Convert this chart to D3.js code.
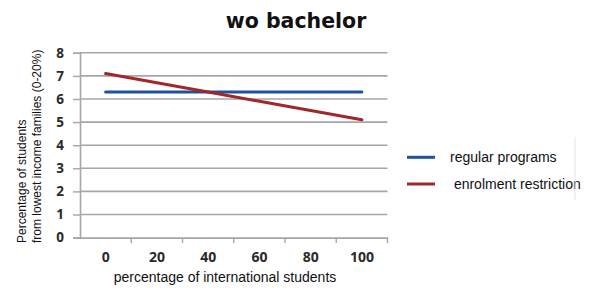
<!DOCTYPE html>
<html><head><meta charset="utf-8">
<script src="https://cdn.jsdelivr.net/npm/d3@7"></script>
<style>body{margin:0;background:#fff}svg{display:block}</style>
</head><body><svg id="c" width="590" height="296"></svg>
<script>
const categories = ["0","20","40","60","80","100"];
const regularPrograms = [6.3,6.3,6.3,6.3,6.3,6.3];
const enrolmentRestriction = [7.1,6.7,6.3,5.9,5.5,5.1];
const yTicks = [0,1,2,3,4,5,6,7,8];
const seriesNames = ["regular programs"," enrolment restriction"];
const colors = ["#21509c","#a1282a"];

const svg = d3.select("#c");
const x = d3.scaleBand().domain(categories).range([80,387.5]);
const y = d3.scaleLinear().domain([0,8]).range([237.6,52.8]);

// gridlines
svg.append("g").selectAll("line").data(yTicks.filter(d=>d>0)).join("line")
  .attr("x1",80).attr("x2",387.5).attr("y1",d=>y(d)).attr("y2",d=>y(d))
  .attr("stroke","#a6a6a6").attr("stroke-width",1.6);

// y axis
const ya = svg.append("g").attr("transform","translate(80,0)")
  .call(d3.axisLeft(y).tickValues(yTicks).tickSize(7).tickPadding(9));
ya.select(".domain").attr("stroke","#a6a6a6").attr("stroke-width",1.6);
ya.selectAll(".tick line").attr("stroke","#a6a6a6").attr("stroke-width",1.4);
ya.selectAll("text").attr("font-family","Open Sans").attr("font-weight","bold")
  .attr("font-size",13.5).attr("fill","#2a2a2a");

// x axis
const xa = svg.append("g").attr("transform","translate(0,237.6)")
  .call(d3.axisBottom(x).tickSize(0).tickPadding(14));
xa.select(".domain").attr("stroke","#a6a6a6").attr("stroke-width",1.6);
xa.selectAll("text").attr("font-family","Open Sans").attr("font-weight","bold")
  .attr("font-size",14).attr("fill","#2a2a2a");
// boundary ticks
const bounds = categories.map(c=>x(c)).concat([x.range()[1]]).slice(1);
svg.append("g").selectAll("line").data(bounds).join("line")
  .attr("x1",d=>d).attr("x2",d=>d).attr("y1",237.6).attr("y2",243)
  .attr("stroke","#a6a6a6").attr("stroke-width",1.4);

// lines
const line = d3.line().x((d,i)=>x(categories[i])+x.bandwidth()/2).y(d=>y(d));
[regularPrograms,enrolmentRestriction].forEach((s,i)=>{
  svg.append("path").datum(s).attr("d",line).attr("fill","none")
    .attr("stroke",colors[i]).attr("stroke-width",3).attr("stroke-linecap","round");
});

// title
svg.append("text").attr("x",296).attr("y",27.5).attr("text-anchor","middle")
  .attr("font-family","DejaVu Sans").attr("font-weight","bold").attr("font-size",20.5)
  .attr("fill","#111").text("wo bachelor");

// axis titles
svg.append("text").attr("x",225).attr("y",281.5).attr("text-anchor","middle")
  .attr("font-family","Liberation Sans").attr("font-size",14).attr("fill","#111")
  .text("percentage of international students");
const yt = svg.append("text").attr("transform","translate(26,243) rotate(-90)")
  .attr("font-family","Liberation Sans").attr("font-size",12).attr("fill","#111");
yt.append("tspan").attr("x",0).attr("y",0).text("Percentage of students");
yt.append("tspan").attr("x",0).attr("y",14.5).text("from lowest income families (0-20%)");

// legend
const lg = svg.append("g");
seriesNames.forEach((n,i)=>{
  const yy = 157.3 + i*26.7;
  lg.append("line").attr("x1",407).attr("x2",435).attr("y1",yy).attr("y2",yy)
    .attr("stroke",colors[i]).attr("stroke-width",3);
  lg.append("text").attr("x",450).attr("y",yy+5).attr("font-family","Liberation Sans")
    .attr("font-size",14).attr("fill","#111").style("white-space","pre").text(n);
});
lg.append("line").attr("x1",575).attr("x2",575).attr("y1",137).attr("y2",200)
  .attr("stroke","#e4e4e4").attr("stroke-width",1);
</script></body></html>
